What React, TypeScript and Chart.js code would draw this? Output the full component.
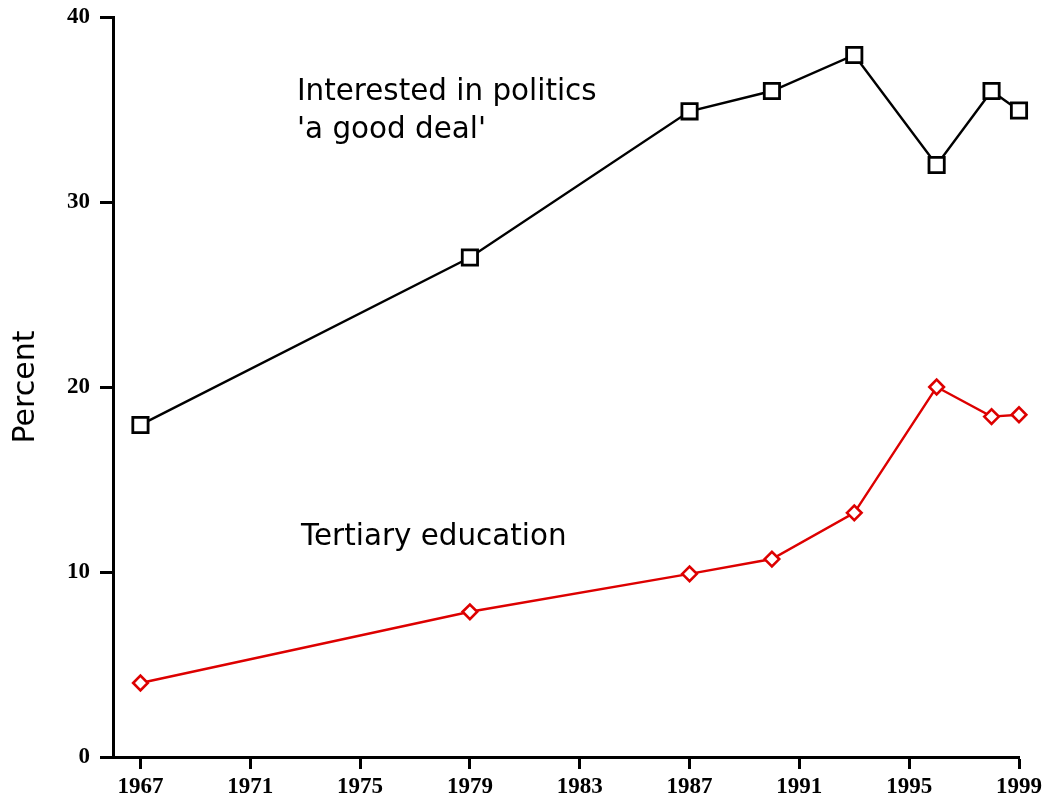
import React, { useEffect, useRef } from "react";
import { Chart, registerables } from "chart.js";

Chart.register(...registerables);

const years = [1967, 1979, 1987, 1990, 1993, 1996, 1998, 1999];
const interested = [17.95, 27.0, 34.9, 36.0, 37.95, 32.0, 36.0, 34.95];
const tertiary = [4.0, 7.85, 9.9, 10.7, 13.2, 20.0, 18.4, 18.5];
const xTicks = [1967, 1971, 1975, 1979, 1983, 1987, 1991, 1995, 1999];
const yTicks = [0, 10, 20, 30, 40];

const labelInterested = ["Interested in politics", "'a good deal'"];
const labelInterestedAt = { x: 1972.7, y: 35.5 };
const labelTertiary = ["Tertiary education"];
const labelTertiaryAt = { x: 1972.85, y: 11.45 };

const RED = "rgb(221,0,0)";
const SANS = "'DejaVu Sans', sans-serif";
const SERIF = "'Liberation Serif', serif";

const annotations = {
  id: "annotations",
  afterDatasetsDraw(chart: any) {
    const { ctx, scales } = chart;
    const x = scales.x;
    const y = scales.y;
    ctx.save();
    ctx.fillStyle = "#000";
    ctx.font = `29.4px ${SANS}`;
    ctx.textAlign = "left";
    ctx.textBaseline = "alphabetic";
    const draw = (lines: string[], at: { x: number; y: number }) => {
      const px = x.getPixelForValue(at.x);
      const py = y.getPixelForValue(at.y);
      lines.forEach((l, i) => ctx.fillText(l, px, py + i * 38));
    };
    draw(labelInterested, labelInterestedAt);
    draw(labelTertiary, labelTertiaryAt);
    ctx.restore();
  },
};

export default function App() {
  const ref = useRef<HTMLCanvasElement>(null);
  useEffect(() => {
    if (!ref.current) return;
    const chart = new Chart(ref.current, {
      type: "line",
      data: {
        datasets: [
          {
            label: "Interested in politics 'a good deal'",
            data: years.map((yr, i) => ({ x: yr, y: interested[i] })),
            borderColor: "#000",
            borderWidth: 2.4,
            pointStyle: "rect",
            pointRadius: 10.8,
            pointBorderWidth: 2.8,
            pointBorderColor: "#000",
            pointBackgroundColor: "#fff",
            tension: 0,
            clip: false,
          },
          {
            label: "Tertiary education",
            data: years.map((yr, i) => ({ x: yr, y: tertiary[i] })),
            borderColor: RED,
            borderWidth: 2.4,
            pointStyle: "rectRot",
            pointRadius: 7.3,
            pointBorderWidth: 2.6,
            pointBorderColor: RED,
            pointBackgroundColor: "#fff",
            tension: 0,
            clip: false,
          },
        ],
      },
      options: {
        responsive: false,
        animation: false,
        layout: { padding: { top: 17, right: 23, left: 8, bottom: 0 } },
        plugins: {
          legend: { display: false },
          tooltip: { enabled: false },
        },
        scales: {
          x: {
            type: "linear",
            min: 1966,
            max: 1999,
            afterBuildTicks: (s: any) => {
              s.ticks = xTicks.map((v) => ({ value: v }));
            },
            afterFit: (s: any) => {
              s.height = 41;
              s.paddingLeft = 0;
              s.paddingRight = 0;
            },
            ticks: {
              color: "#000",
              font: { family: SERIF, size: 23, weight: "bold" },
              padding: 4,
              maxRotation: 0,
              autoSkip: false,
              callback: (v: any) => String(v),
            },
            grid: {
              drawOnChartArea: false,
              drawTicks: true,
              tickLength: 12,
              tickWidth: 3,
              tickColor: "#000",
            },
            border: { display: true, color: "#000", width: 3 },
          },
          y: {
            type: "linear",
            min: 0,
            max: 40,
            afterBuildTicks: (s: any) => {
              s.ticks = yTicks.map((v) => ({ value: v }));
            },
            afterFit: (s: any) => {
              s.width = 105;
              s.paddingTop = 0;
              s.paddingBottom = 0;
            },
            title: {
              display: true,
              text: "Percent",
              color: "#000",
              font: { family: SANS, size: 30 },
              padding: { top: 0, bottom: 0 },
            },
            ticks: {
              color: "#000",
              font: { family: SERIF, size: 23, weight: "bold" },
              padding: 10,
              callback: (v: any) => String(v),
            },
            grid: {
              drawOnChartArea: false,
              drawTicks: true,
              tickLength: 13,
              tickWidth: 3,
              tickColor: "#000",
            },
            border: { display: true, color: "#000", width: 3 },
          },
        },
      },
      plugins: [annotations],
    });
    return () => chart.destroy();
  }, []);
  return (
    <div style={{ position: "fixed", left: 0, top: 0, width: 1042, height: 798, background: "#fff" }}>
      <canvas ref={ref} width={1042} height={798} style={{ width: 1042, height: 798 }} />
    </div>
  );
}
